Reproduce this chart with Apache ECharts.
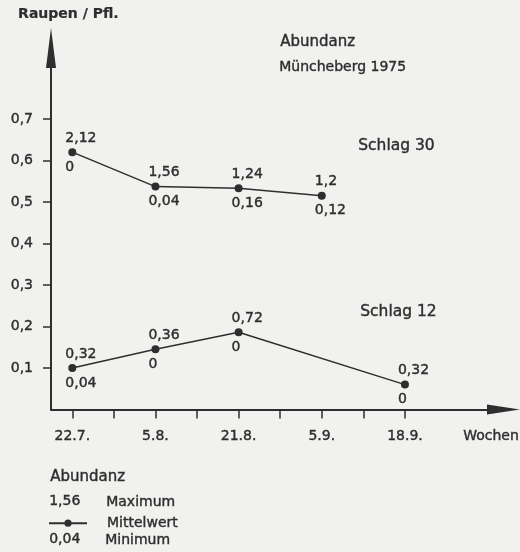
<!DOCTYPE html>
<html>
<head>
<meta charset="utf-8">
<script src="https://cdn.jsdelivr.net/npm/echarts@6/dist/echarts.min.js"></script>
<style>
  html, body { margin: 0; padding: 0; background: #f1f1ef; }
  #chart { width: 520px; height: 552px; }
</style>
</head>
<body>
<div id="chart"></div>
<script>
// Sampling dates (two weeks apart) and their position on the week axis
const dateLabels = ['22.7.', '5.8.', '21.8.', '5.9.', '18.9.'];
const datePos = [0, 2, 4, 6, 8];
const weekTicks = [0, 1, 2, 3, 4, 5, 6, 7, 8];
const yTicks = [0.1, 0.2, 0.3, 0.4, 0.5, 0.6, 0.7];

// Schlag 30: mean caterpillars per plant, with max / min per date
const s30Pos = [0, 2, 4, 6];
const s30Mean = [0.62, 0.537, 0.533, 0.515];
const s30Max = ['2,12', '1,56', '1,24', '1,2'];
const s30Min = ['0', '0,04', '0,16', '0,12'];

// Schlag 12
const s12Pos = [0, 2, 4, 8];
const s12Mean = [0.10, 0.145, 0.186, 0.06];
const s12Max = ['0,32', '0,36', '0,72', '0,32'];
const s12Min = ['0,04', '0', '0', '0'];

const ink = '#2e2e2e';
const font = 'DejaVu Sans';
// a thin outline in the ink colour gives the lettering a pen-like weight
const pen = { textBorderColor: ink, textBorderWidth: 0.4 };

const pairs = (xs, ys) => xs.map((x, i) => [x, ys[i]]);

function meanSeries(name, xs, ys, maxLabels) {
  return {
    name: name,
    type: 'line',
    data: pairs(xs, ys),
    symbol: 'circle',
    symbolSize: 8,
    lineStyle: { color: ink, width: 1.5 },
    itemStyle: { color: ink },
    label: Object.assign({
      show: true, position: 'top', distance: 3, align: 'left', offset: [-7, 0],
      color: ink, fontFamily: font, fontSize: 14,
      formatter: p => maxLabels[p.dataIndex]
    }, pen),
    emphasis: { disabled: true },
    z: 3
  };
}

function minSeries(xs, ys, minLabels) {
  return {
    type: 'scatter',
    data: pairs(xs, ys),
    symbolSize: 8,
    itemStyle: { color: 'rgba(0,0,0,0)', opacity: 1 },
    label: Object.assign({
      show: true, position: 'bottom', distance: 4, align: 'left', offset: [-7, 0],
      color: ink, fontFamily: font, fontSize: 14,
      formatter: p => minLabels[p.dataIndex]
    }, pen),
    emphasis: { disabled: true },
    silent: true,
    z: 2
  };
}

const txt = Object.assign({ fill: ink, fontFamily: font, fontSize: 14, stroke: ink, lineWidth: 0.4 });
const t = (text, extra) => Object.assign({}, txt, { text: text }, extra || {});

const chart = echarts.init(document.getElementById('chart'), null, { renderer: 'canvas' });
chart.setOption({
  backgroundColor: '#f1f1ef',
  animation: false,
  grid: { left: 51, right: 16.5, top: 48, bottom: 142.5, containLabel: false },
  xAxis: {
    type: 'value',
    min: -0.512,
    max: 10.37,
    axisLine: {
      onZero: false,
      lineStyle: { color: ink, width: 2 },
      symbol: ['none', 'triangle'],
      symbolSize: [10, 33]
    },
    axisTick: { show: true, customValues: weekTicks, length: 9, lineStyle: { color: ink, width: 1.5 } },
    axisLabel: Object.assign({
      customValues: datePos,
      formatter: v => dateLabels[datePos.indexOf(Math.round(v))],
      margin: 20, color: ink, fontFamily: font, fontSize: 14
    }, pen),
    splitLine: { show: false }
  },
  yAxis: {
    type: 'value',
    min: 0,
    max: 0.871,
    axisLine: {
      show: true,
      onZero: false,
      lineStyle: { color: ink, width: 2 },
      symbol: ['none', 'triangle'],
      symbolSize: [10, 40]
    },
    axisTick: { show: true, customValues: yTicks, length: 8, lineStyle: { color: ink, width: 1.5 } },
    axisLabel: Object.assign({
      customValues: yTicks,
      formatter: v => v.toFixed(1).replace('.', ','),
      margin: 18, color: ink, fontFamily: font, fontSize: 14
    }, pen),
    splitLine: { show: false }
  },
  legend: {
    data: ['Schlag 30'],
    left: 43,
    top: 511,
    itemWidth: 38,
    itemHeight: 9,
    selectedMode: false,
    formatter: () => 'Mittelwert',
    textStyle: Object.assign({ color: ink, fontFamily: font, fontSize: 14, padding: [4, 0, 0, 15] }, pen)
  },
  series: [
    meanSeries('Schlag 30', s30Pos, s30Mean, s30Max),
    minSeries(s30Pos, s30Mean, s30Min),
    meanSeries('Schlag 12', s12Pos, s12Mean, s12Max),
    minSeries(s12Pos, s12Mean, s12Min)
  ],
  graphic: [
    { type: 'text', left: 18, top: 7, style: t('Raupen / Pfl.', { fontWeight: 'bold', lineWidth: 0.2 }) },
    { type: 'text', left: 280, top: 34, style: t('Abundanz', { fontSize: 15 }) },
    { type: 'text', left: 279, top: 60, style: t('Müncheberg 1975') },
    { type: 'text', left: 358, top: 138, style: t('Schlag 30', { fontSize: 15.5 }) },
    { type: 'text', left: 360, top: 304, style: t('Schlag 12', { fontSize: 15.5 }) },
    { type: 'text', right: 1, top: 429, style: t('Wochen') },
    { type: 'text', left: 50, top: 469, style: t('Abundanz', { fontSize: 15 }) },
    { type: 'text', left: 49, top: 494, style: t('1,56') },
    { type: 'text', left: 106, top: 495, style: t('Maximum') },
    { type: 'text', left: 49, top: 532, style: t('0,04') },
    { type: 'text', left: 105, top: 533, style: t('Minimum') }
  ]
});
</script>
</body>
</html>
